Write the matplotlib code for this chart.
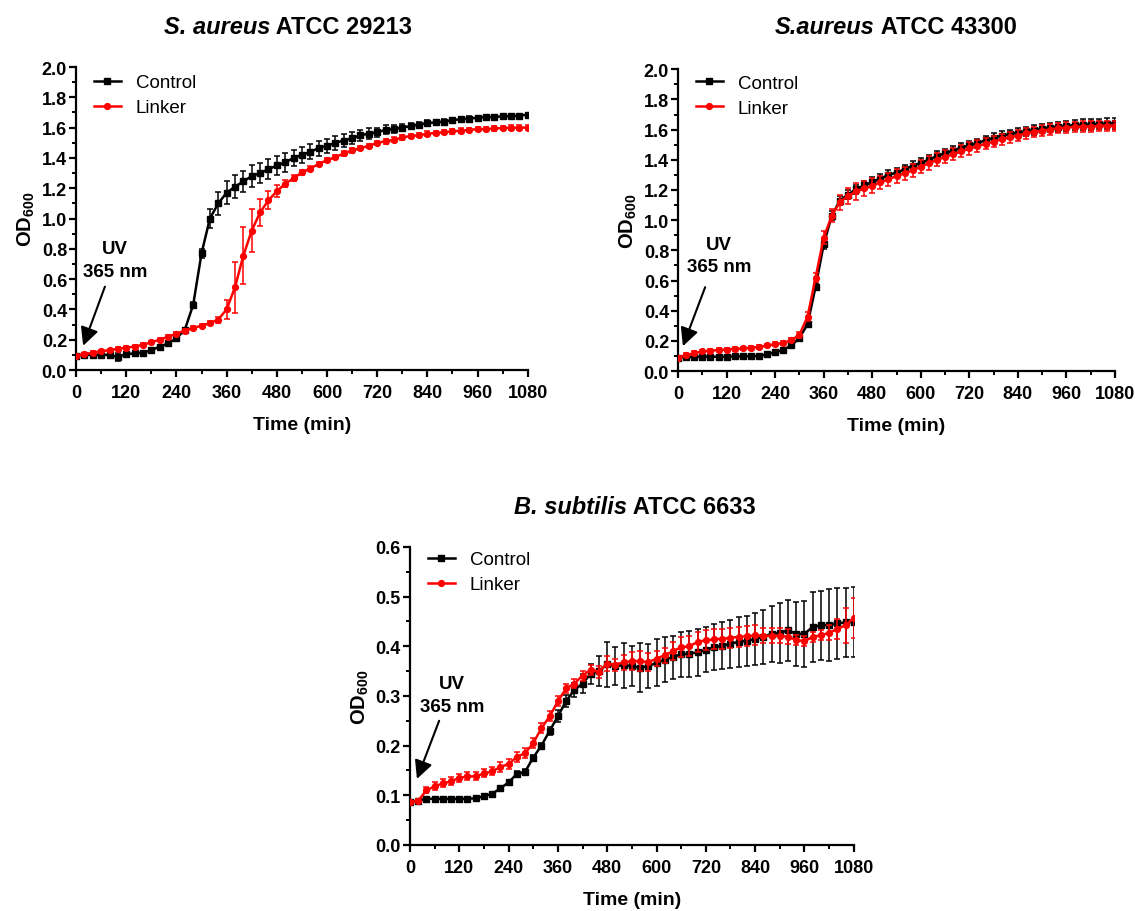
import matplotlib
matplotlib.use("Agg")
import matplotlib.pyplot as plt
from matplotlib.ticker import MultipleLocator, FormatStrFormatter
from matplotlib.lines import Line2D

plt.rcParams['font.family'] = ['Liberation Sans', 'DejaVu Sans']
plt.rcParams['mathtext.fontset'] = 'custom'
plt.rcParams['mathtext.rm'] = 'Liberation Sans'
plt.rcParams['mathtext.bf'] = 'Liberation Sans:bold'
plt.rcParams['mathtext.it'] = 'Liberation Sans:italic'

time_min = [0, 20, 40, 60, 80, 100, 120, 140, 160, 180, 200, 220, 240, 260, 280, 300,
            320, 340, 360, 380, 400, 420, 440, 460, 480, 500, 520, 540, 560, 580, 600,
            620, 640, 660, 680, 700, 720, 740, 760, 780, 800, 820, 840, 860, 880, 900,
            920, 940, 960, 980, 1000, 1020, 1040, 1060, 1080]

# Panel 1: S. aureus ATCC 29213
sa29_control = [0.095, 0.10, 0.10, 0.10, 0.10, 0.085, 0.105, 0.11, 0.115, 0.13, 0.155,
                0.175, 0.21, 0.265, 0.43, 0.77, 1.00, 1.10, 1.17, 1.21, 1.245, 1.28, 1.30,
                1.325, 1.35, 1.37, 1.40, 1.42, 1.44, 1.465, 1.48, 1.50, 1.515, 1.53, 1.55,
                1.56, 1.57, 1.585, 1.59, 1.60, 1.61, 1.62, 1.63, 1.635, 1.64, 1.65, 1.655,
                1.66, 1.665, 1.67, 1.67, 1.675, 1.675, 1.68, 1.685]
sa29_control_err = [0.01, 0.01, 0.01, 0.01, 0.01, 0.025, 0.01, 0.01, 0.01, 0.01, 0.01,
                    0.01, 0.01, 0.01, 0.02, 0.03, 0.065, 0.075, 0.075, 0.075, 0.07, 0.07,
                    0.065, 0.065, 0.06, 0.06, 0.055, 0.055, 0.05, 0.05, 0.045, 0.045, 0.04,
                    0.04, 0.035, 0.035, 0.03, 0.03, 0.028, 0.025, 0.022, 0.02, 0.02, 0.018,
                    0.018, 0.016, 0.016, 0.015, 0.015, 0.014, 0.014, 0.013, 0.013, 0.012, 0.012]
sa29_linker = [0.095, 0.105, 0.115, 0.125, 0.13, 0.14, 0.148, 0.155, 0.167, 0.183, 0.20,
               0.22, 0.24, 0.26, 0.277, 0.293, 0.31, 0.333, 0.40, 0.546, 0.755, 0.92, 1.04,
               1.12, 1.18, 1.23, 1.265, 1.305, 1.33, 1.36, 1.385, 1.405, 1.43, 1.45, 1.465,
               1.48, 1.50, 1.51, 1.52, 1.535, 1.545, 1.55, 1.56, 1.565, 1.57, 1.575, 1.58,
               1.585, 1.59, 1.59, 1.595, 1.597, 1.60, 1.60, 1.60]
sa29_linker_err = [0.01, 0.01, 0.01, 0.01, 0.01, 0.01, 0.01, 0.01, 0.01, 0.01, 0.01, 0.01,
                   0.01, 0.01, 0.012, 0.012, 0.015, 0.02, 0.065, 0.17, 0.19, 0.14, 0.09, 0.06,
                   0.04, 0.025, 0.02, 0.015, 0.015, 0.015, 0.015, 0.015, 0.015, 0.015, 0.015,
                   0.015, 0.015, 0.015, 0.015, 0.015, 0.015, 0.015, 0.015, 0.015, 0.015,
                   0.015, 0.015, 0.015, 0.015, 0.015, 0.015, 0.015, 0.015, 0.015, 0.015]

# Panel 2: S. aureus ATCC 43300
sa43_control = [0.09, 0.095, 0.095, 0.095, 0.095, 0.095, 0.096, 0.097, 0.097, 0.10, 0.10,
                0.11, 0.125, 0.14, 0.17, 0.22, 0.31, 0.56, 0.84, 1.03, 1.13, 1.17, 1.205,
                1.23, 1.253, 1.275, 1.30, 1.315, 1.337, 1.36, 1.38, 1.40, 1.425, 1.443, 1.46,
                1.48, 1.496, 1.51, 1.53, 1.545, 1.56, 1.57, 1.58, 1.59, 1.598, 1.607, 1.613,
                1.62, 1.625, 1.63, 1.633, 1.635, 1.638, 1.64, 1.642]
sa43_control_err = [0.01, 0.01, 0.01, 0.01, 0.01, 0.01, 0.01, 0.01, 0.01, 0.01, 0.01, 0.01,
                    0.01, 0.01, 0.01, 0.012, 0.015, 0.02, 0.03, 0.03, 0.03, 0.03, 0.03, 0.03,
                    0.03, 0.03, 0.03, 0.03, 0.03, 0.03, 0.03, 0.03, 0.03, 0.03, 0.03, 0.03,
                    0.03, 0.03, 0.03, 0.03, 0.03, 0.03, 0.03, 0.03, 0.032, 0.032, 0.032,
                    0.033, 0.033, 0.034, 0.034, 0.035, 0.035, 0.035, 0.035]
sa43_linker = [0.09, 0.105, 0.12, 0.13, 0.135, 0.14, 0.143, 0.148, 0.15, 0.155, 0.16, 0.17,
               0.178, 0.187, 0.205, 0.24, 0.36, 0.62, 0.885, 1.03, 1.12, 1.16, 1.19, 1.21,
               1.227, 1.25, 1.27, 1.293, 1.31, 1.33, 1.355, 1.377, 1.40, 1.42, 1.436, 1.457,
               1.475, 1.49, 1.507, 1.52, 1.536, 1.55, 1.56, 1.575, 1.585, 1.593, 1.60, 1.61,
               1.613, 1.618, 1.62, 1.62, 1.624, 1.624, 1.624]
sa43_linker_err = [0.01, 0.012, 0.012, 0.012, 0.012, 0.012, 0.012, 0.012, 0.012, 0.012,
                   0.012, 0.012, 0.012, 0.012, 0.015, 0.02, 0.03, 0.03, 0.04, 0.045, 0.05,
                   0.055, 0.055, 0.05, 0.05, 0.045, 0.045, 0.045, 0.045, 0.045, 0.045, 0.045,
                   0.042, 0.042, 0.04, 0.04, 0.04, 0.04, 0.038, 0.038, 0.038, 0.036, 0.036,
                   0.036, 0.035, 0.035, 0.035, 0.035, 0.035, 0.035, 0.035, 0.035, 0.035,
                   0.035, 0.035]

# Panel 3: B. subtilis ATCC 6633
bs_control = [0.086, 0.089, 0.093, 0.093, 0.093, 0.093, 0.093, 0.093, 0.094, 0.098, 0.103,
              0.114, 0.126, 0.143, 0.147, 0.176, 0.20, 0.23, 0.259, 0.29, 0.312, 0.325,
              0.345, 0.35, 0.364, 0.36, 0.362, 0.36, 0.357, 0.36, 0.367, 0.373, 0.378, 0.384,
              0.385, 0.388, 0.393, 0.398, 0.401, 0.405, 0.409, 0.411, 0.415, 0.419, 0.425,
              0.427, 0.432, 0.425, 0.425, 0.439, 0.442, 0.443, 0.446, 0.448, 0.449]
bs_control_err = [0.003, 0.003, 0.003, 0.003, 0.003, 0.003, 0.003, 0.003, 0.003, 0.003,
                  0.003, 0.004, 0.004, 0.005, 0.005, 0.005, 0.006, 0.008, 0.012, 0.012,
                  0.015, 0.02, 0.02, 0.03, 0.045, 0.038, 0.045, 0.04, 0.05, 0.045, 0.047,
                  0.045, 0.043, 0.045, 0.046, 0.047, 0.045, 0.046, 0.047, 0.048, 0.05, 0.05,
                  0.052, 0.055, 0.057, 0.06, 0.062, 0.065, 0.067, 0.07, 0.07, 0.072, 0.072,
                  0.07, 0.07]
bs_linker = [0.086, 0.089, 0.11, 0.118, 0.124, 0.128, 0.135, 0.138, 0.138, 0.144, 0.148,
             0.157, 0.163, 0.177, 0.185, 0.205, 0.235, 0.259, 0.289, 0.315, 0.325, 0.341,
             0.353, 0.349, 0.365, 0.363, 0.368, 0.37, 0.37, 0.368, 0.375, 0.382, 0.39,
             0.398, 0.40, 0.409, 0.412, 0.414, 0.415, 0.417, 0.419, 0.42, 0.422, 0.421,
             0.421, 0.421, 0.419, 0.413, 0.41, 0.419, 0.422, 0.427, 0.435, 0.442, 0.457]
bs_linker_err = [0.003, 0.003, 0.006, 0.008, 0.008, 0.008, 0.008, 0.008, 0.008, 0.008,
                 0.008, 0.01, 0.01, 0.01, 0.01, 0.01, 0.01, 0.01, 0.01, 0.01, 0.01, 0.01,
                 0.01, 0.012, 0.015, 0.012, 0.015, 0.018, 0.02, 0.018, 0.015, 0.015, 0.018,
                 0.02, 0.02, 0.02, 0.02, 0.02, 0.02, 0.02, 0.02, 0.02, 0.02, 0.015, 0.015,
                 0.015, 0.015, 0.01, 0.01, 0.01, 0.01, 0.015, 0.02, 0.035, 0.04]

series_labels = ["Control", "Linker"]
x_ticks = [0, 120, 240, 360, 480, 600, 720, 840, 960, 1080]

W, H = 1135, 912
fig = plt.figure(figsize=(W / 100, H / 100), dpi=100)

panels = [
    dict(rect=[0.067, 0.5932, 0.398, 0.3322], ctrl=sa29_control, ctrl_err=sa29_control_err,
         link=sa29_linker, link_err=sa29_linker_err, ymax=2.0, ymaj=0.2, ymin=0.1,
         arrow_tip=(17, 0.16), arrow_tail=(69, 0.55), uv=(93, 0.80), nm=(93, 0.65),
         title_it="S. aureus", title_rest=" ATCC 29213", title_xy=(288, 28),
         leg_y=1.02),
    dict(rect=[0.5974, 0.592, 0.385, 0.331], ctrl=sa43_control, ctrl_err=sa43_control_err,
         link=sa43_linker, link_err=sa43_linker_err, ymax=2.0, ymaj=0.2, ymin=0.1,
         arrow_tip=(12, 0.165), arrow_tail=(67, 0.556), uv=(101, 0.84), nm=(101, 0.69),
         title_it="S.aureus", title_rest=" ATCC 43300", title_xy=(896, 28),
         leg_y=1.025),
    dict(rect=[0.3612, 0.0724, 0.391, 0.3268], ctrl=bs_control, ctrl_err=bs_control_err,
         link=bs_linker, link_err=bs_linker_err, ymax=0.6, ymaj=0.1, ymin=0.05,
         arrow_tip=(17, 0.133), arrow_tail=(71, 0.25), uv=(102, 0.326), nm=(102, 0.278),
         title_it="B. subtilis", title_rest=" ATCC 6633", title_xy=(635, 507),
         leg_y=1.03),
]

TITLE_FS = 17
title_parts = []
for p in panels:
    ax = fig.add_axes(p["rect"])
    ax.errorbar(time_min, p["ctrl"], yerr=p["ctrl_err"], color="black", marker="s",
                markersize=4.2, linewidth=1.8, elinewidth=1.1, capsize=2.2, capthick=1.1,
                zorder=3)
    ax.errorbar(time_min, p["link"], yerr=p["link_err"], color="#ff0000", marker="o",
                markersize=4.2, linewidth=1.8, elinewidth=1.1, capsize=2.2, capthick=1.1,
                zorder=4)
    ax.set_xlim(0, 1080)
    ax.set_ylim(0, p["ymax"])
    ax.set_xticks(x_ticks)
    ax.xaxis.set_minor_locator(MultipleLocator(60))
    ax.yaxis.set_major_locator(MultipleLocator(p["ymaj"]))
    ax.yaxis.set_minor_locator(MultipleLocator(p["ymin"]))
    ax.yaxis.set_major_formatter(FormatStrFormatter('%.1f'))
    for s in ["top", "right"]:
        ax.spines[s].set_visible(False)
    for s in ["left", "bottom"]:
        ax.spines[s].set_linewidth(1.6)
    ax.tick_params(which="major", direction="out", length=5, width=1.6, labelsize=13)
    ax.tick_params(axis="x", which="major", pad=5)
    ax.tick_params(axis="y", which="major", pad=1.5)
    ax.tick_params(which="minor", direction="out", length=3, width=1.4)
    for lab in ax.get_xticklabels() + ax.get_yticklabels():
        lab.set_fontweight("bold")
    ax.set_xlabel("Time (min)", fontsize=14, fontweight="bold", labelpad=11)
    ax.set_ylabel(r"$\mathbf{OD_{600}}$", fontsize=14.5, labelpad=3)
    handles = [Line2D([], [], color="black", marker="s", markersize=4.2, linewidth=1.8),
               Line2D([], [], color="#ff0000", marker="o", markersize=4.2, linewidth=1.8)]
    ax.legend(handles, series_labels, loc="upper left", bbox_to_anchor=(0.01, p["leg_y"]),
              frameon=False, fontsize=13.5, handlelength=1.45, handletextpad=0.8,
              labelspacing=0.42, borderaxespad=0.3)
    ax.annotate("", xy=p["arrow_tip"], xytext=p["arrow_tail"],
                arrowprops=dict(arrowstyle="-|>,head_length=1.1,head_width=0.55",
                                color="black", lw=1.5, shrinkA=0, shrinkB=0))
    ax.text(p["uv"][0], p["uv"][1], "UV", ha="center", va="center", fontsize=13.5,
            fontweight="bold")
    ax.text(p["nm"][0], p["nm"][1], "365 nm", ha="center", va="center", fontsize=13.5,
            fontweight="bold")
    tx, ty = p["title_xy"]
    t1 = fig.text(tx / W, 1 - ty / H, p["title_it"], fontsize=TITLE_FS, fontweight="bold",
                  style="italic", ha="left", va="center")
    t2 = fig.text(0, 0, p["title_rest"], fontsize=TITLE_FS, fontweight="bold", ha="left",
                  va="center")
    title_parts.append((t1, t2, tx, ty))

fig.canvas.draw()
r = fig.canvas.get_renderer()
for t1, t2, tx, ty in title_parts:
    w1 = t1.get_window_extent(r).width
    w2 = t2.get_window_extent(r).width
    left = tx - (w1 + w2) / 2
    t1.set_position((left / W, 1 - ty / H))
    t2.set_position(((left + w1) / W, 1 - ty / H))

fig.savefig("out.png", dpi=100)
